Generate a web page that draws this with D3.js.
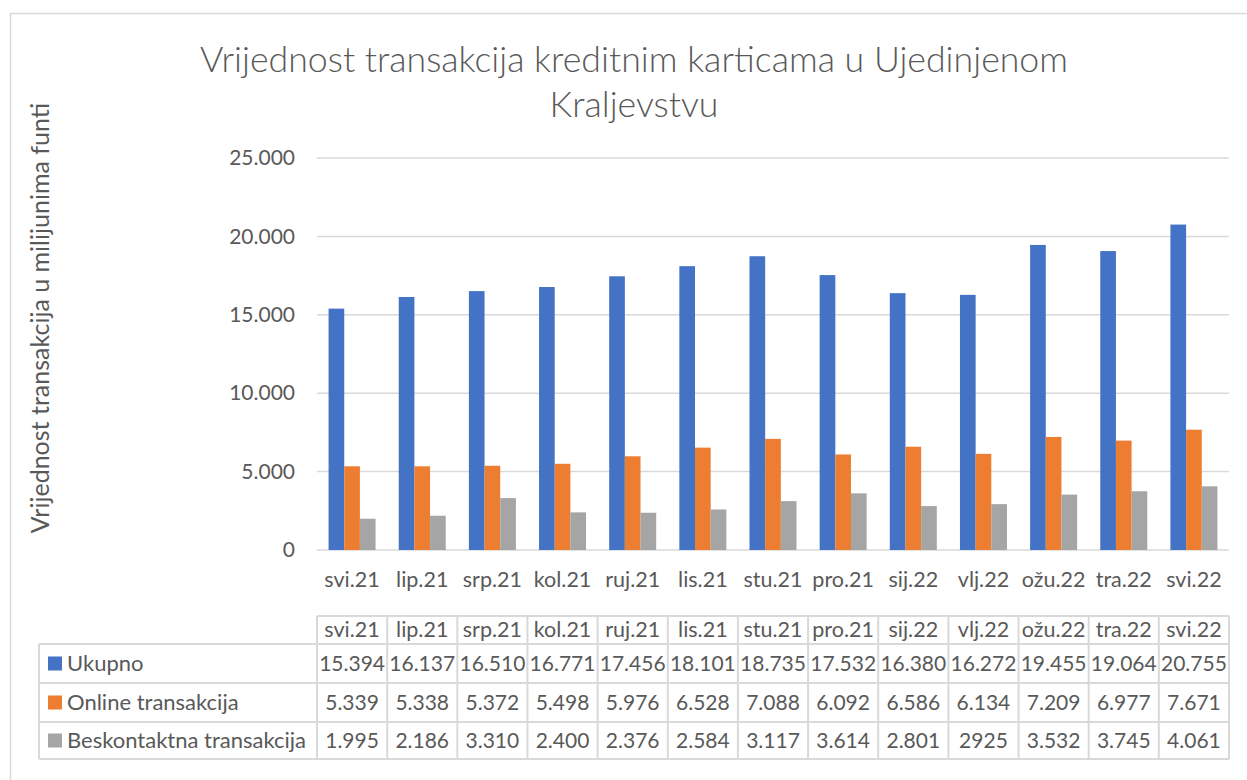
<!DOCTYPE html>
<html><head><meta charset="utf-8">
<script src="https://cdn.jsdelivr.net/npm/d3@7"></script>
<style>body{margin:0;background:#fff;} text{font-family:Lato,"Open Sans",sans-serif;}</style>
</head><body>
<svg id="c" width="1247" height="780"></svg>
<script>
const categories = ["svi.21","lip.21","srp.21","kol.21","ruj.21","lis.21","stu.21","pro.21","sij.22","vlj.22","ožu.22","tra.22","svi.22"];
const seriesNames = ["Ukupno","Online transakcija","Beskontaktna transakcija"];
const ukupno = [15394,16137,16510,16771,17456,18101,18735,17532,16380,16272,19455,19064,20755];
const online = [5339,5338,5372,5498,5976,6528,7088,6092,6586,6134,7209,6977,7671];
const beskontaktna = [1995,2186,3310,2400,2376,2584,3117,3614,2801,2925,3532,3745,4061];
const tableLabels = [
  ["15.394","16.137","16.510","16.771","17.456","18.101","18.735","17.532","16.380","16.272","19.455","19.064","20.755"],
  ["5.339","5.338","5.372","5.498","5.976","6.528","7.088","6.092","6.586","6.134","7.209","6.977","7.671"],
  ["1.995","2.186","3.310","2.400","2.376","2.584","3.117","3.614","2.801","2925","3.532","3.745","4.061"]
];
const yTicks = [0,5000,10000,15000,20000,25000];
const colors = ["#4472C4","#ED7D31","#A5A5A5"];
const series = [ukupno, online, beskontaktna];

const svg = d3.select("#c");
const textColor = "#595959", gridColor = "#d9d9d9";

// outer chart border
svg.append("rect").attr("x",10.5).attr("y",13.5).attr("width",1300).attr("height",900)
  .attr("fill","none").attr("stroke",gridColor).attr("stroke-width",1.5);

// title
const title = svg.append("text").attr("text-anchor","middle").attr("fill",textColor)
  .style("font-size","35.7px").style("font-weight","300");
title.append("tspan").attr("x",634).attr("y",72).text("Vrijednost transakcija kreditnim karticama u Ujedinjenom");
title.append("tspan").attr("x",634).attr("y",117).text("Kraljevstvu");

const pLeft = 317, pRight = 1229, pTop = 158, pBottom = 550;
const x = d3.scaleBand().domain(categories).range([pLeft,pRight]).paddingInner(0.33).paddingOuter(0.165);
const xs = d3.scaleBand().domain(d3.range(3)).range([0,x.bandwidth()]);
const y = d3.scaleLinear().domain([0,25000]).range([pBottom,pTop]);

// gridlines
svg.append("g").selectAll("line").data(yTicks).join("line")
  .attr("x1",pLeft).attr("x2",pRight).attr("y1",d=>y(d)).attr("y2",d=>y(d))
  .attr("stroke",gridColor).attr("stroke-width",1.5);

// y axis labels
const fmt = d => d===0 ? "0" : d3.format(",")(d).replace(/,/g,".");
const yAxis = svg.append("g").attr("transform",`translate(${pLeft},0)`)
  .call(d3.axisLeft(y).tickValues(yTicks).tickFormat(fmt).tickSize(0).tickPadding(22));
yAxis.select(".domain").remove();
yAxis.selectAll("text").attr("fill",textColor).style("font-size","21px").style("font-family","Lato");

// bars
series.forEach((vals,si)=>{
  svg.append("g").selectAll("rect").data(vals).join("rect")
    .attr("x",(d,i)=>x(categories[i])+xs(si))
    .attr("width",xs.bandwidth())
    .attr("y",d=>y(d)).attr("height",d=>y(0)-y(d))
    .attr("fill",colors[si]);
});

// x axis labels
const xAxis = svg.append("g").attr("transform",`translate(0,${pBottom})`)
  .call(d3.axisBottom(x).tickSize(0).tickPadding(22));
xAxis.select(".domain").remove();
xAxis.selectAll("text").attr("fill",textColor).style("font-size","21.5px").style("font-family","Lato");

// y axis title
svg.append("text").attr("transform","translate(49,318) rotate(-90)").attr("text-anchor","middle")
  .attr("fill",textColor).style("font-size","25px").text("Vrijednost transakcija u milijunima funti");

// data table
const tLeft = 39, hTop = 616, rowLines = [644,683,722,759];
const tg = svg.append("g");
const lineAttr = s => s.attr("stroke",gridColor).attr("stroke-width",2);
lineAttr(tg.append("line").attr("x1",pLeft).attr("x2",pRight).attr("y1",hTop).attr("y2",hTop));
rowLines.forEach(ry=>lineAttr(tg.append("line").attr("x1",tLeft).attr("x2",pRight).attr("y1",ry).attr("y2",ry)));
lineAttr(tg.append("line").attr("x1",tLeft).attr("x2",tLeft).attr("y1",rowLines[0]).attr("y2",rowLines[3]));
const colEdges = categories.map(c=>x(c)-x.step()*x.paddingInner()/2);
colEdges.push(pRight);
colEdges.forEach(cx=>lineAttr(tg.append("line").attr("x1",cx).attr("x2",cx).attr("y1",hTop).attr("y2",rowLines[3])));
tg.selectAll("text.h").data(categories).join("text").attr("class","h")
  .attr("x",d=>x(d)+x.bandwidth()/2).attr("y",(hTop+rowLines[0])/2+7)
  .attr("text-anchor","middle").attr("fill",textColor).style("font-size","21.5px").text(d=>d);
seriesNames.forEach((nm,si)=>{
  const cy = (rowLines[si]+rowLines[si+1])/2;
  tg.append("rect").attr("x",48).attr("y",cy-7).attr("width",14).attr("height",14).attr("fill",colors[si]);
  tg.append("text").attr("x",67).attr("y",cy+7.5).attr("fill",textColor).style("font-size","22px").text(nm);
  tg.selectAll(null).data(tableLabels[si]).join("text")
    .attr("x",(d,i)=>x(categories[i])+x.bandwidth()/2).attr("y",cy+7.5)
    .attr("text-anchor","middle").attr("fill",textColor).style("font-size","21px").text(d=>d);
});
</script>
</body></html>
